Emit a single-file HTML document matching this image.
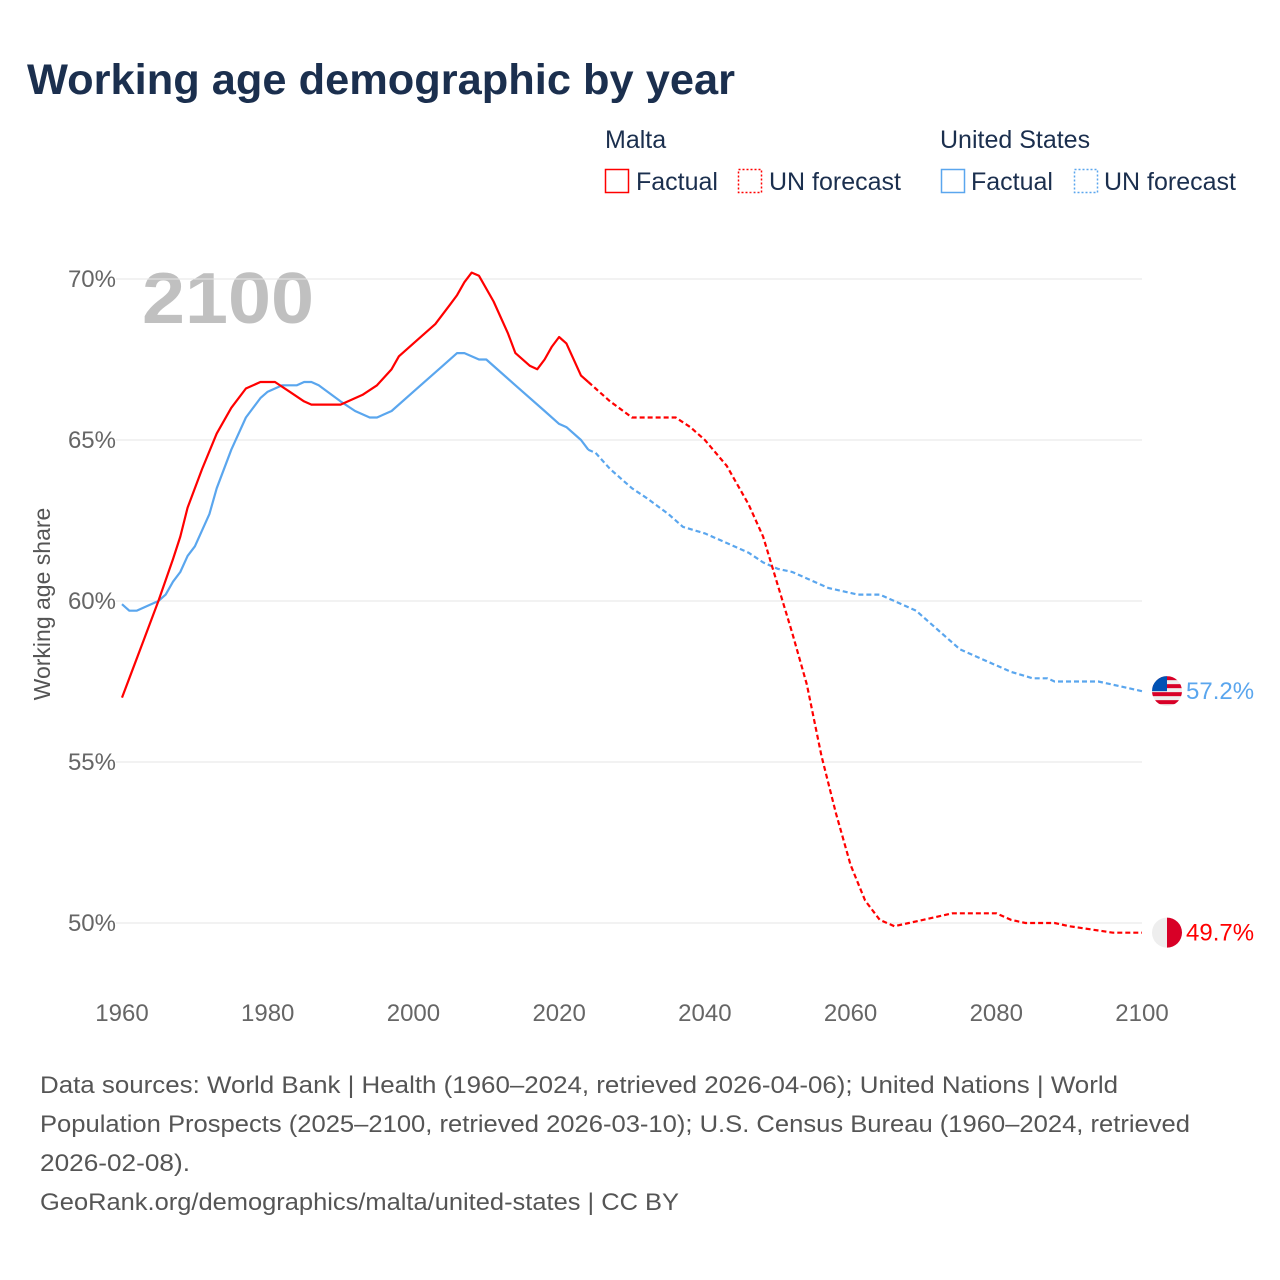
<!DOCTYPE html>
<html><head><meta charset="utf-8">
<style>
body{margin:0;background:#fff;font-family:"Liberation Sans",sans-serif;}
#wrap{position:relative;width:1280px;height:1280px;overflow:hidden;}
</style></head>
<body><div id="wrap">
<svg id="svg" width="1280" height="1280">
<text x="27" y="94" font-size="43" font-weight="bold" fill="#1b2f4e" textLength="708" lengthAdjust="spacingAndGlyphs">Working age demographic by year</text>
<g font-size="25" fill="#1b2f4e">
<text x="605" y="148">Malta</text>
<rect x="605.5" y="169.5" width="23" height="23" fill="none" stroke="#f00" stroke-width="1.5"/>
<text x="636" y="190">Factual</text>
<rect x="738.5" y="169.5" width="23" height="23" fill="none" stroke="#f00" stroke-width="1.5" stroke-dasharray="2 2"/>
<text x="769" y="190">UN forecast</text>
<text x="940" y="148">United States</text>
<rect x="941.5" y="169.5" width="23" height="23" fill="none" stroke="#5aa6ee" stroke-width="1.5"/>
<text x="971" y="190">Factual</text>
<rect x="1074.5" y="169.5" width="23" height="23" fill="none" stroke="#5aa6ee" stroke-width="1.5" stroke-dasharray="2 2"/>
<text x="1104" y="190">UN forecast</text>
</g>
<text x="142" y="323" font-size="72" font-weight="bold" fill="#c0c0c0" textLength="172" lengthAdjust="spacingAndGlyphs">2100</text>
<text transform="translate(50,604) rotate(-90)" text-anchor="middle" font-size="23" fill="#555">Working age share</text>
<g id="grid"></g><g id="lines"></g><g id="ends"></g>
<g font-size="24" fill="#555">
<text x="40" y="1093" textLength="1078" lengthAdjust="spacingAndGlyphs">Data sources: World Bank | Health (1960–2024, retrieved 2026-04-06); United Nations | World</text>
<text x="40" y="1132" textLength="1150" lengthAdjust="spacingAndGlyphs">Population Prospects (2025–2100, retrieved 2026-03-10); U.S. Census Bureau (1960–2024, retrieved</text>
<text x="40" y="1171" textLength="150" lengthAdjust="spacingAndGlyphs">2026-02-08).</text>
<text x="40" y="1210" textLength="639" lengthAdjust="spacingAndGlyphs">GeoRank.org/demographics/malta/united-states | CC BY</text>
</g>
</svg></div>
<script>
const yTicks=[50,55,60,65,70];
const xTicks=[1960,1980,2000,2020,2040,2060,2080,2100];
const maltaYears=[1960,1961,1963,1965,1967,1968,1969,1971,1973,1975,1977,1979,1981,1983,1985,1986,1990,1993,1995,1997,1998,2000,2003,2005,2006,2007,2008,2009,2011,2013,2014,2016,2017,2018,2019,2020,2021,2023,2024,2025,2027,2030,2036,2038,2040,2043,2046,2048,2050,2052,2054,2056,2058,2060,2062,2064,2066,2068,2070,2074,2080,2082,2084,2088,2090,2093,2096,2100];
const maltaVals=[57.0,57.6,58.8,60.0,61.3,62.0,62.9,64.1,65.2,66.0,66.6,66.8,66.8,66.5,66.2,66.1,66.1,66.4,66.7,67.2,67.6,68.0,68.6,69.2,69.5,69.9,70.2,70.1,69.3,68.3,67.7,67.3,67.2,67.5,67.9,68.2,68.0,67.0,66.8,66.6,66.2,65.7,65.7,65.4,65.0,64.2,63.0,62.0,60.5,59.0,57.4,55.2,53.4,51.8,50.7,50.1,49.9,50.0,50.1,50.3,50.3,50.1,50.0,50.0,49.9,49.8,49.7,49.7];
const usYears=[1960,1961,1962,1964,1965,1966,1967,1968,1969,1970,1972,1973,1975,1977,1979,1980,1982,1984,1985,1986,1987,1990,1992,1994,1995,1997,2000,2002,2004,2006,2007,2009,2010,2014,2018,2020,2021,2023,2024,2025,2027,2030,2032,2035,2037,2040,2043,2046,2048,2050,2052,2054,2057,2059,2061,2064,2066,2069,2072,2075,2077,2080,2082,2085,2087,2088,2094,2096,2100];
const usVals=[59.9,59.7,59.7,59.9,60.0,60.2,60.6,60.9,61.4,61.7,62.7,63.5,64.7,65.7,66.3,66.5,66.7,66.7,66.8,66.8,66.7,66.2,65.9,65.7,65.7,65.9,66.5,66.9,67.3,67.7,67.7,67.5,67.5,66.7,65.9,65.5,65.4,65.0,64.7,64.6,64.1,63.5,63.2,62.7,62.3,62.1,61.8,61.5,61.2,61.0,60.9,60.7,60.4,60.3,60.2,60.2,60.0,59.7,59.1,58.5,58.3,58.0,57.8,57.6,57.6,57.5,57.5,57.4,57.2];
const forecastStart=2024;
const NS='http://www.w3.org/2000/svg';
const X=y=>122+(y-1960)*(1020/140);
const Y=v=>923-(v-50)*32.2;
function mk(t,a,p){const e=document.createElementNS(NS,t);for(const k in a)e.setAttribute(k,a[k]);p.appendChild(e);return e;}
const grid=document.getElementById('grid');
yTicks.forEach(v=>{
 const l=mk('line',{x1:116,x2:1142,y1:Y(v),y2:Y(v),stroke:'#e6e6e6','stroke-width':1},grid);
 
 
 const t=mk('text',{x:116,y:Y(v)+8,'text-anchor':'end','font-size':24,fill:'#666'},grid);
 t.textContent=v+'%';
 
 
});
xTicks.forEach(y=>{
 const t=mk('text',{x:X(y),y:1021,'text-anchor':'middle','font-size':24,fill:'#666'},grid);
 t.textContent=y;
 
 
});
const lines=document.getElementById('lines');
function draw(ys,vs,col,name){
 const a=[],b=[];
 ys.forEach((y,i)=>{const p=X(y).toFixed(1)+','+Y(vs[i]).toFixed(1);if(y<=forecastStart)a.push(p);if(y>=forecastStart)b.push(p);});
 const l1=mk('polyline',{points:a.join(' '),fill:'none',stroke:col,'stroke-width':2.2,'stroke-linejoin':'round'},lines);
 
 
 const l2=mk('polyline',{points:b.join(' '),fill:'none',stroke:col,'stroke-width':2.2,'stroke-dasharray':'5 3'},lines);
 
 
}
draw(usYears,usVals,'#5aa6ee','us');
draw(maltaYears,maltaVals,'#f00','malta');
const ends=document.getElementById('ends');
const uv=usVals[usVals.length-1],mv=maltaVals[maltaVals.length-1];
const uy=Y(uv);
const ug=mk('g',{},ends);


mk('clipPath',{id:'cu'},ug).appendChild(document.createElementNS(NS,'circle'));
const cc=ug.querySelector('circle');cc.setAttribute('cx',1167);cc.setAttribute('cy',uy);cc.setAttribute('r',15);
const gg=mk('g',{'clip-path':'url(#cu)'},ug);
mk('rect',{x:1152,y:uy-15,width:30,height:30,fill:'#eee'},gg);
for(let i=0;i<4;i++)mk('rect',{x:1152,y:uy-15+i*8,width:30,height:4,fill:'#d80027'},gg);
mk('rect',{x:1152,y:uy-15,width:15,height:15,fill:'#0052b4'},gg);
const ut=mk('text',{x:1186,y:uy+8,'font-size':24,fill:'#5aa6ee'},ends);
ut.textContent=uv.toFixed(1)+'%';


const my=Y(mv);
const mg=mk('g',{},ends);


mk('circle',{cx:1167,cy:my,r:15,fill:'#eee'},mg);
mk('path',{d:`M1167 ${my-15} A15 15 0 0 1 1167 ${my+15} Z`,fill:'#d80027'},mg);
const mt=mk('text',{x:1186,y:my+8,'font-size':24,fill:'#f00'},ends);
mt.textContent=mv.toFixed(1)+'%';


</script>
</body></html>
